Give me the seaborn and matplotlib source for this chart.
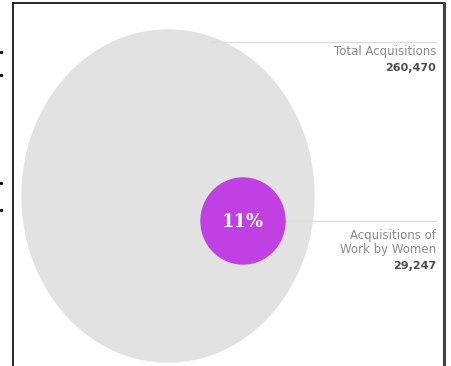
import matplotlib
matplotlib.use("Agg")
import matplotlib.pyplot as plt
from matplotlib.patches import Ellipse
import seaborn as sns

# data
groups = ["Total Acquisitions", "Acquisitions of", "Work by Women"]
counts = [260470, 29247]
share = round(100 * counts[1] / counts[0])

GREY = "#e2e2e2"
PURPLE = "#c040e4"
LABEL = "#8a8a8a"
NUMBER = "#4d4d4d"
RULE = "#dcdcdc"

sns.set_style("white")
plt.rcParams["font.family"] = ["DejaVu Sans"]

fig = plt.figure(figsize=(4.52, 3.66), dpi=100)
ax = fig.add_axes([0, 0, 1, 1])
ax.set_xlim(0, 452)
ax.set_ylim(366, 0)
ax.axis("off")

# frame from the scanned page
ax.plot([13, 13], [3, 366], color="black", lw=1.2)
ax.plot([13, 444], [3, 3], color="black", lw=1.2)
ax.plot([444, 444], [3, 366], color="#444444", lw=2.2)
ax.scatter([1, 1, 1, 1], [52, 75, 183, 210], s=2, color="black")

# big circle: all acquisitions, small circle: work by women
ax.add_patch(Ellipse((168, 196), 292, 332, color=GREY, zorder=1))
ax.add_patch(Ellipse((243, 221), 84, 86, color=PURPLE, zorder=3))
ax.text(243, 222, f"{share}%", color="white", fontsize=13,
        family="DejaVu Serif", fontweight="bold",
        ha="center", va="center", zorder=4)

# leader lines and labels
ax.plot([210, 436], [42, 42], color=RULE, lw=1, zorder=2)
ax.plot([285, 436], [221, 221], color=RULE, lw=1, zorder=2)

ax.text(436, 52, groups[0], color=LABEL, fontsize=8.5,
        ha="right", va="center")
ax.text(436, 68, f"{counts[0]:,}", color=NUMBER, fontsize=8,
        fontweight="bold", ha="right", va="center")
ax.text(436, 235, groups[1], color=LABEL, fontsize=8.5,
        ha="right", va="center")
ax.text(436, 250, groups[2], color=LABEL, fontsize=8.5,
        ha="right", va="center")
ax.text(436, 266, f"{counts[1]:,}", color=NUMBER, fontsize=8,
        fontweight="bold", ha="right", va="center")

fig.savefig("out.png", dpi=100, facecolor="white")
